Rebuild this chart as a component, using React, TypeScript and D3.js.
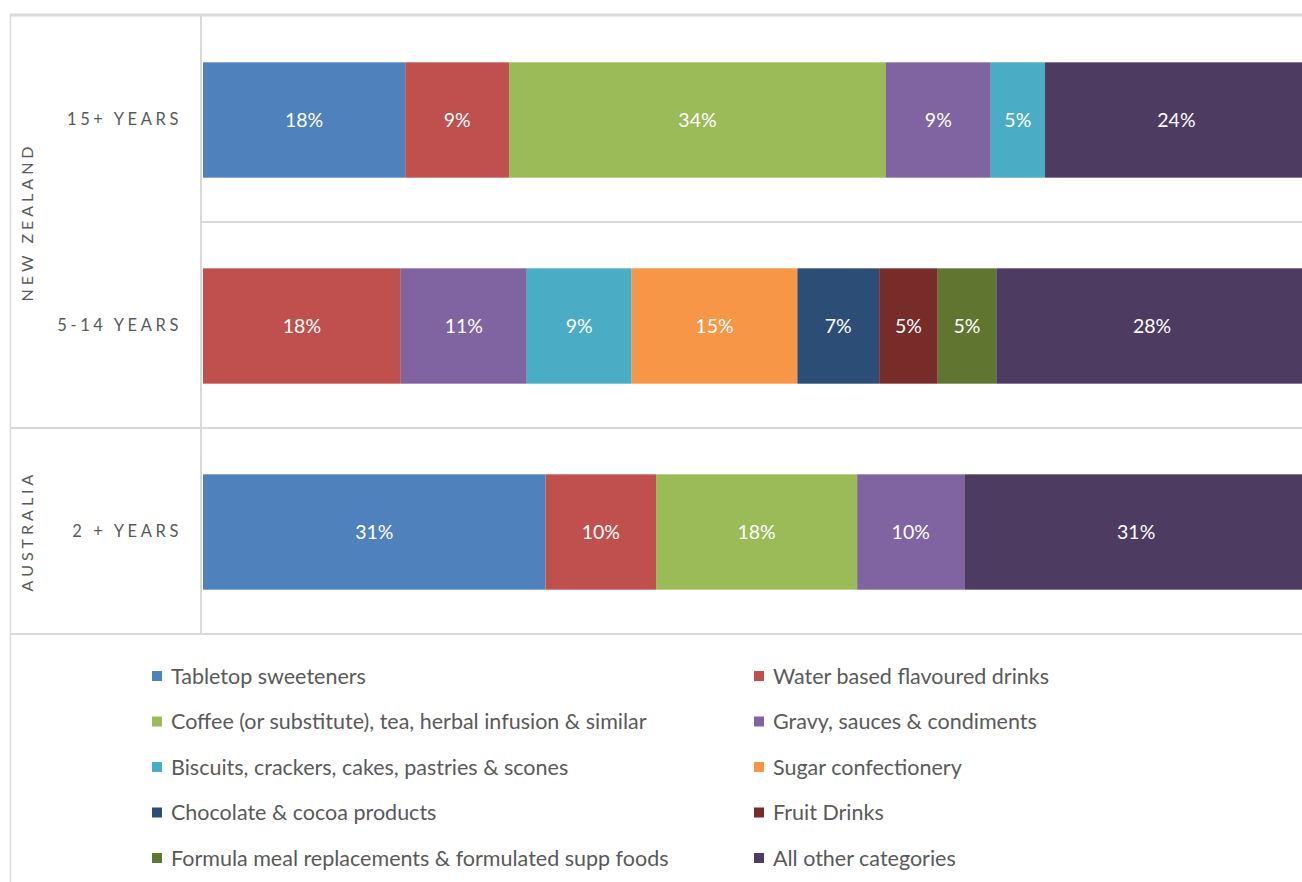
import * as React from "react";
import * as d3 from "d3";

const W = 1302;
const H = 882;

const categories = ["15+ YEARS", "5-14 YEARS", "2 + YEARS"];
const groups = [
  { name: "NEW ZEALAND", members: ["15+ YEARS", "5-14 YEARS"] },
  { name: "AUSTRALIA", members: ["2 + YEARS"] },
];

const seriesNames = [
  "Tabletop sweeteners",
  "Water based flavoured drinks",
  "Coffee (or substitute), tea, herbal infusion & similar",
  "Gravy, sauces & condiments",
  "Biscuits, crackers, cakes, pastries & scones",
  "Sugar confectionery",
  "Chocolate & cocoa products",
  "Fruit Drinks",
  "Formula meal replacements & formulated supp foods",
  "All other categories",
];

const seriesColors = [
  "#4f81bd",
  "#c0504d",
  "#9bbb59",
  "#8064a2",
  "#4bacc6",
  "#f79646",
  "#2c4d75",
  "#772c2a",
  "#5f7530",
  "#4d3b62",
];

// share (%) per category, in the order of categories
const tabletop = [18.3, 0, 31.0];
const waterDrinks = [9.4, 17.9, 10.0];
const coffeeTea = [34.1, 0, 18.2];
const gravySauces = [9.49, 11.4, 9.7];
const biscuits = [4.9, 9.49, 0];
const sugarConf = [0, 15.0, 0];
const chocolate = [0, 7.4, 0];
const fruitDrinks = [0, 5.3, 0];
const formulaMeal = [0, 5.3, 0];
const allOther = [23.8, 28.2, 31.1];

const seriesValues = [
  tabletop,
  waterDrinks,
  coffeeTea,
  gravySauces,
  biscuits,
  sugarConf,
  chocolate,
  fruitDrinks,
  formulaMeal,
  allOther,
];

const font = "Lato, 'Open Sans', sans-serif";
const gridColor = "#d9d9d9";
const textColor = "#595959";

const plotLeft = 203;
const plotTop = 16;
const plotBottom = 634;

export default function App() {
  const table = categories.map((c, i) => {
    const row: any = { category: c };
    seriesNames.forEach((s, j) => (row[s] = seriesValues[j][i]));
    return row;
  });

  const stacked = d3.stack<any>().keys(seriesNames)(table);

  const x = d3.scaleLinear().domain([0, 100]).range([plotLeft, 1308]);
  const y = d3
    .scaleBand()
    .domain(categories)
    .range([plotTop, plotBottom])
    .padding(0);
  const barH = y.bandwidth() * 0.56;

  const legendRows = Math.ceil(seriesNames.length / 2);
  const legendY = d3
    .scalePoint()
    .domain(d3.range(legendRows).map(String))
    .range([676, 858]);
  const legendX = [152, 754];

  return (
    <svg
      width={W}
      height={H}
      style={{ position: "absolute", left: 0, top: 0, background: "#fff" }}
    >
      {/* frame and grid */}
      <line x1={10} x2={W} y1={15} y2={15} stroke={gridColor} strokeWidth={3} />
      <line x1={10.5} x2={10.5} y1={14} y2={H} stroke={gridColor} strokeWidth={1.5} />
      <line x1={201} x2={201} y1={15} y2={plotBottom} stroke={gridColor} strokeWidth={2} />
      {categories.slice(1).map((c, i) => {
        const isGroupStart = groups.some((g) => g.members[0] === c);
        return (
          <line
            key={i}
            x1={isGroupStart ? 10 : 201}
            x2={W}
            y1={y(c)!}
            y2={y(c)!}
            stroke={gridColor}
            strokeWidth={2}
          />
        );
      })}
      <line x1={10} x2={W} y1={plotBottom} y2={plotBottom} stroke={gridColor} strokeWidth={2} />

      {/* bars */}
      {stacked.map((layer, j) => (
        <g key={layer.key} fill={seriesColors[j]}>
          {layer.map((d, i) => {
            const w = x(d[1]) - x(d[0]);
            if (w <= 0) return null;
            const cy = y(categories[i])! + y.bandwidth() / 2 + 1;
            return (
              <g key={i}>
                <rect x={x(d[0])} y={cy - barH / 2} width={w} height={barH} />
                <text
                  x={(x(d[0]) + x(d[1])) / 2}
                  y={cy}
                  dy="0.35em"
                  textAnchor="middle"
                  fill="#fff"
                  fontFamily={font}
                  fontSize={19.5}
                >
                  {Math.round(d[1] - d[0])}%
                </text>
              </g>
            );
          })}
        </g>
      ))}

      {/* category labels */}
      {categories.map((c) => (
        <text
          key={c}
          x={182}
          y={y(c)! + y.bandwidth() / 2}
          dy="0.35em"
          textAnchor="end"
          fill={textColor}
          fontFamily={font}
          fontSize={16.5}
          letterSpacing={3.6}
        >
          {c}
        </text>
      ))}

      {/* group labels */}
      {groups.map((g) => {
        const top = y(g.members[0])!;
        const bottom = y(g.members[g.members.length - 1])! + y.bandwidth();
        const cy = (top + bottom) / 2;
        return (
          <text
            key={g.name}
            transform={`translate(27,${cy}) rotate(-90)`}
            dy="0.35em"
            textAnchor="middle"
            fill={textColor}
            fontFamily={font}
            fontSize={16}
            letterSpacing={4}
          >
            {g.name}
          </text>
        );
      })}

      {/* legend */}
      {seriesNames.map((s, j) => {
        const col = j % 2;
        const row = Math.floor(j / 2);
        const ly = legendY(String(row))!;
        return (
          <g key={s} transform={`translate(${legendX[col]},${ly})`}>
            <rect x={0} y={-5} width={10} height={10} fill={seriesColors[j]} />
            <text
              x={19}
              y={0}
              dy="0.35em"
              fill={textColor}
              fontFamily={font}
              fontSize={21.5}
            >
              {s}
            </text>
          </g>
        );
      })}
    </svg>
  );
}
